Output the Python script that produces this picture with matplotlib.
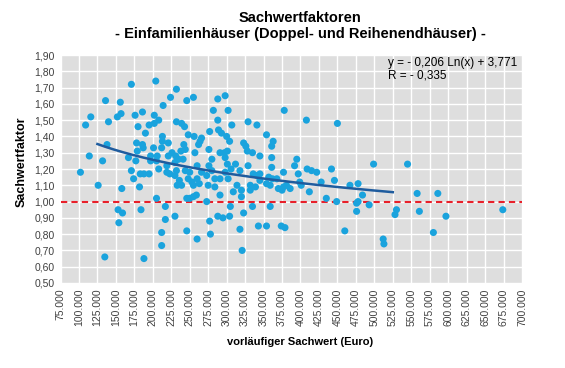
import numpy as np
import matplotlib
matplotlib.use("Agg")
import matplotlib.pyplot as plt

plt.rcParams['font.family'] = ['Liberation Sans', 'DejaVu Sans']

# vorlaeufiger Sachwert in Tausend Euro, Sachwertfaktor
sachwert_tsd = [
    171, 204, 232, 136, 156, 224, 246, 255, 288, 298, 214, 116, 109, 140, 152, 157,
    176, 186, 202, 180, 195, 202, 208, 232, 239, 243, 282, 288, 190, 213, 213, 248,
    256, 266, 264, 262, 277, 293, 178, 186, 201, 212, 242, 138, 114, 132, 179, 187,
    197, 206, 226, 238, 244, 257, 276, 291, 280, 231, 167, 177, 197, 205, 219, 208,
    102, 126, 158, 171, 174, 183, 188, 195, 182, 205, 153, 159, 154, 184, 217, 217,
    212, 212, 230, 246, 260, 277, 278, 288, 273, 246, 250, 255, 259, 135, 188, 232,
    230, 236, 239, 233, 244, 248, 253, 255, 260, 263, 260, 266, 273, 280, 284, 223,
    230, 302, 307, 329, 341, 289, 300, 304, 323, 326, 363, 361, 221, 297, 301, 298,
    328, 335, 345, 361, 235, 241, 276, 301, 329, 219, 250, 298, 306, 318, 336, 341,
    345, 357, 362, 291, 302, 275, 284, 314, 332, 339, 332, 309, 320, 291, 305, 335,
    320, 221, 312, 361, 392, 395, 409, 422, 442, 397, 377, 368, 399, 381, 386, 375,
    370, 345, 354, 359, 412, 428, 446, 467, 478, 435, 449, 478, 476, 295, 304, 323,
    359, 318, 343, 354, 374, 379, 321, 460, 378, 408, 450, 354, 415, 401, 484, 499,
    476, 493, 377, 545, 512, 513, 558, 586, 530, 528, 561, 597, 580, 674,
]
faktor = [
    1.72, 1.74, 1.69, 1.62, 1.61, 1.64, 1.62, 1.64, 1.63, 1.65, 1.59, 1.52, 1.47, 1.49, 1.52, 1.54,
    1.53, 1.55, 1.53, 1.46, 1.47, 1.48, 1.50, 1.49, 1.48, 1.46, 1.56, 1.50, 1.42, 1.40, 1.37, 1.41,
    1.40, 1.39, 1.37, 1.35, 1.43, 1.42, 1.36, 1.35, 1.33, 1.33, 1.35, 1.35, 1.28, 1.25, 1.31, 1.33,
    1.28, 1.28, 1.30, 1.31, 1.32, 1.30, 1.32, 1.30, 1.26, 1.28, 1.27, 1.25, 1.25, 1.25, 1.22, 1.20,
    1.18, 1.10, 1.08, 1.19, 1.14, 1.17, 1.17, 1.17, 1.09, 1.02, 0.95, 0.93, 0.87, 0.95, 0.97, 0.89,
    0.81, 0.73, 0.91, 0.82, 0.77, 0.88, 0.80, 0.91, 1.00, 1.02, 1.02, 1.03, 1.04, 0.66, 0.65, 1.19,
    1.16, 1.13, 1.10, 1.10, 1.19, 1.14, 1.12, 1.10, 1.14, 1.11, 1.22, 1.18, 1.16, 1.19, 1.14, 1.17,
    1.24, 1.56, 1.47, 1.49, 1.47, 1.44, 1.40, 1.37, 1.36, 1.34, 1.37, 1.34, 1.28, 1.30, 1.31, 1.27,
    1.31, 1.30, 1.28, 1.27, 1.26, 1.26, 1.22, 1.23, 1.22, 1.18, 1.18, 1.18, 1.20, 1.19, 1.17, 1.16,
    1.17, 1.15, 1.14, 1.14, 1.14, 1.10, 1.09, 1.10, 1.10, 1.09, 1.07, 1.06, 1.07, 1.04, 0.97, 0.97,
    1.03, 1.36, 1.23, 1.21, 1.22, 1.26, 1.20, 1.18, 1.20, 1.17, 1.18, 1.14, 1.12, 1.10, 1.08, 1.07,
    1.08, 1.13, 1.11, 1.10, 1.06, 1.12, 1.13, 1.10, 1.11, 1.02, 1.00, 1.00, 0.94, 0.90, 0.91, 0.93,
    0.97, 0.83, 0.85, 0.85, 0.85, 0.84, 0.70, 0.82, 1.56, 1.50, 1.48, 1.41, 1.19, 1.10, 1.04, 1.23,
    0.99, 0.98, 1.09, 1.23, 0.77, 0.74, 1.05, 1.05, 0.95, 0.92, 0.94, 0.91, 0.81, 0.95,
]

# Trendlinie y = -0,206 ln(x) + 3,771
trend_a = -0.206
trend_b = 3.771
trend_von = 125000
trend_bis = 525000
trend_text = "y = - 0,206 Ln(x) + 3,771\nR = - 0,335"

x_ticks = np.arange(75000, 700001, 25000)
y_ticks = np.arange(0.5, 1.91, 0.1)

x = np.array(sachwert_tsd) * 1000
y = np.array(faktor)

W, H = 565, 368
fig = plt.figure(figsize=(W / 100, H / 100), dpi=100)
ax = fig.add_axes([60.5 / W, 1 - 283 / H, (522 - 60.5) / W, (283 - 55) / H])
ax.set_facecolor("#dedede")
for s in ax.spines.values():
    s.set_visible(False)

ax.set_xlim(75000, 700000)
ax.set_ylim(0.5, 1.9)
ax.set_xticks(x_ticks)
ax.set_yticks(y_ticks)
ax.set_xticklabels(["{:,}".format(int(v)).replace(",", ".") for v in x_ticks],
                   rotation=90, fontsize=7.5, color="#404040")
ax.set_yticklabels(["{:.2f}".format(v).replace(".", ",") for v in y_ticks],
                   fontsize=7.5, color="#404040")
ax.tick_params(length=0, pad=4)
ax.grid(True, color="white", linewidth=1.0)
ax.set_axisbelow(True)

ax.axhline(1.0, color="#e8202a", linestyle=(0, (3, 2)), linewidth=1.5, zorder=2)

ax.scatter(x, y, s=26, color="#1aa3dd", edgecolors="none", zorder=3)

xt = np.linspace(trend_von, trend_bis, 200)
ax.plot(xt, trend_a * np.log(xt) + trend_b, color="#1f5c9e", linewidth=1.8, zorder=4)

fig.text(388 / W, 1 - 57 / H, trend_text, fontsize=8.5, va="top", ha="left",
         linespacing=1.0, color="black")

fig.text(300 / W, 1 - 342 / H, "vorläufiger Sachwert (Euro)", fontsize=8,
         fontweight="bold", ha="center", va="center")
fig.text(22 / W, 1 - 162 / H, "Sachwertfaktor", fontsize=9, fontweight="bold",
         rotation=90, ha="center", va="center")

fig.text(300 / W, 1 - 26 / H, "Sachwertfaktoren\n- Einfamilienhäuser (Doppel- und Reihenendhäuser) -",
         ha="center", va="center", fontsize=10.5, fontweight="bold", linespacing=1.2)

fig.savefig("out.png", dpi=100)
